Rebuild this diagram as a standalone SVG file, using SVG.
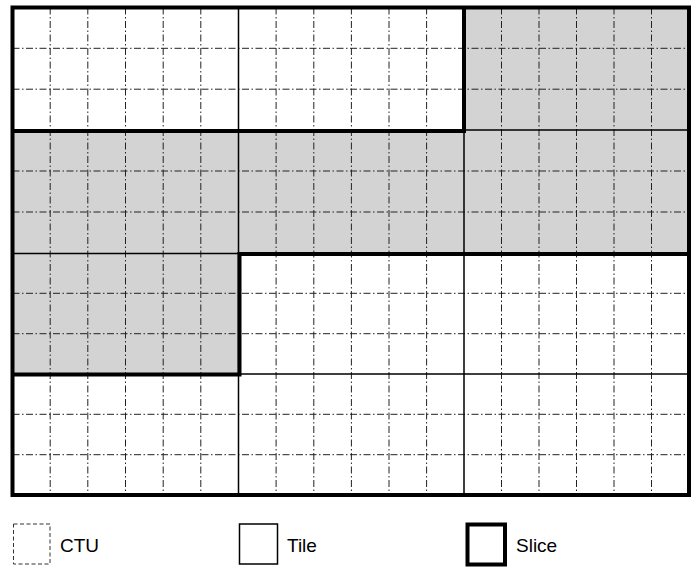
<svg xmlns="http://www.w3.org/2000/svg" width="696" height="574" viewBox="0 0 696 574">
<style>
.ctu{stroke:#222;stroke-width:1;stroke-dasharray:7 2.5 1.5 2.5;fill:none}
.tile{stroke:#000;stroke-width:1.5;fill:none}
.slice{stroke:#000;stroke-width:4;fill:none;stroke-linejoin:miter}
.shade{fill:#d3d3d3}
.lbl{font-family:"Liberation Sans",Arial,sans-serif;font-size:19px;fill:#000}
</style>
<rect x="0" y="0" width="696" height="574" fill="#fff"/>
<g id="shading">
<rect class="shade" x="464" y="7.5" width="225" height="122.5"/>
<rect class="shade" x="12.5" y="130" width="676.5" height="123.5"/>
<rect class="shade" x="12.5" y="253.5" width="226.5" height="120.5"/>
</g>
<g id="ctu-grid">
<path class="ctu" d="M50.2 7.5V495M87.8 7.5V495M125.5 7.5V495M163.2 7.5V495M200.8 7.5V495M276.1 7.5V495M313.8 7.5V495M351.4 7.5V495M389 7.5V495M426.6 7.5V495M501.5 7.5V495M539 7.5V495M576.5 7.5V495M614 7.5V495M651.5 7.5V495"/>
<path class="ctu" d="M12.5 48.3H689M12.5 89.2H689M12.5 171H689M12.5 212H689M12.5 293.3H689M12.5 333.7H689M12.5 414.3H689M12.5 454.7H689"/>
</g>
<g id="tiles">
<path class="tile" d="M238.5 7.5V495M464 7.5V495M12.5 130H689M12.5 253.5H689M12.5 374H689"/>
</g>
<g id="slices">
<rect class="slice" x="12.5" y="7.5" width="676.5" height="487.5"/>
<path class="slice" d="M12.5 131H464V7.5"/>
<path class="slice" d="M12.5 374.5H239.5V254H689"/>
</g>
<g id="legend">
<g id="legend-ctu">
<rect x="13.5" y="524" width="36.5" height="40" fill="none" stroke="#333" stroke-width="1" stroke-dasharray="4 2.5"/>
<text class="lbl" x="60" y="552">CTU</text>
</g>
<g id="legend-tile">
<rect x="239.5" y="524" width="38" height="40" class="tile"/>
<text class="lbl" x="287" y="552">Tile</text>
</g>
<g id="legend-slice">
<rect x="467.5" y="524.5" width="37.5" height="40" class="slice"/>
<text class="lbl" x="516" y="552">Slice</text>
</g>
</g>
</svg>
